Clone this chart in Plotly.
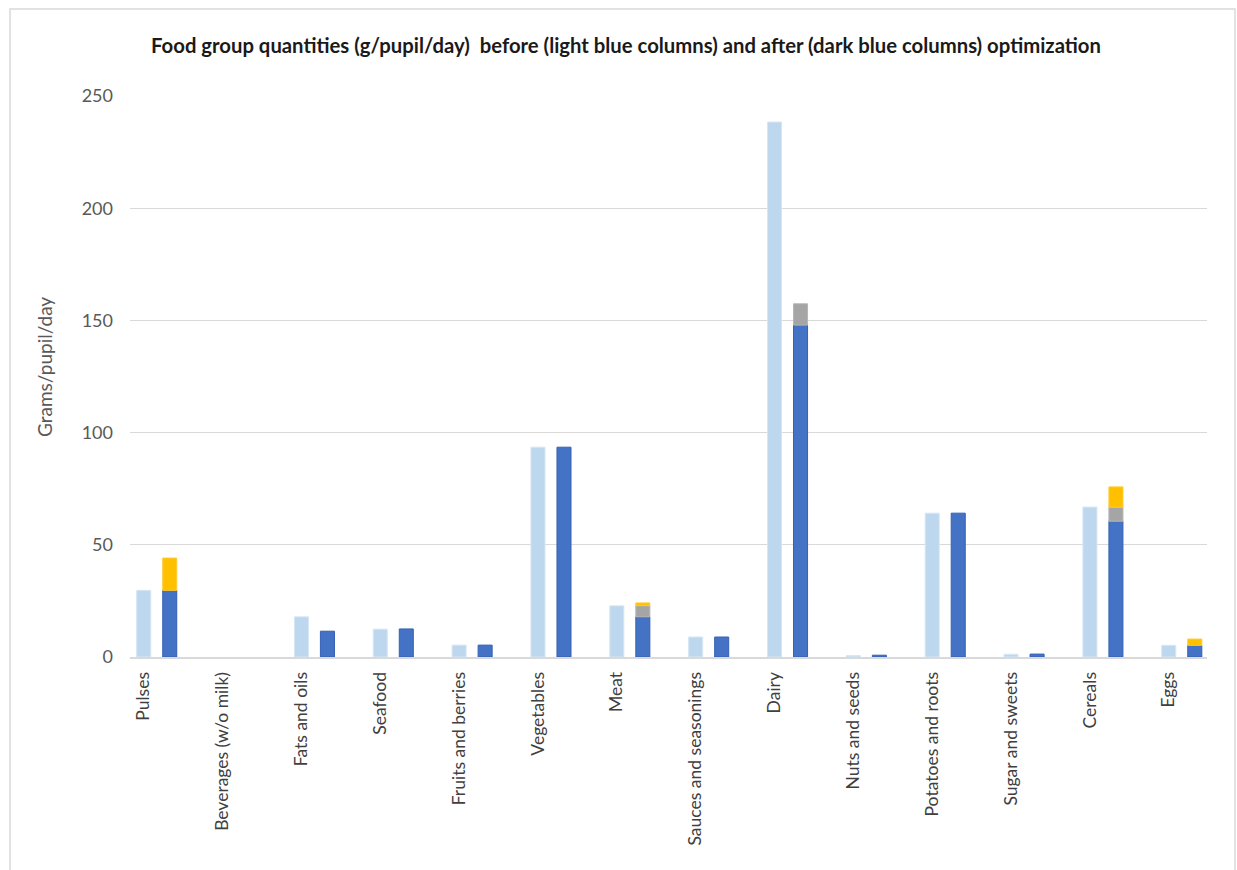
import numpy as np
import plotly.graph_objects as go

categories = ["Pulses", "Beverages (w/o milk)", "Fats and oils", "Seafood",
              "Fruits and berries", "Vegetables", "Meat", "Sauces and seasonings",
              "Dairy", "Nuts and seeds", "Potatoes and roots", "Sugar and sweets",
              "Cereals", "Eggs"]
before = [29.7, 0, 17.9, 12.4, 5.3, 93.5, 22.8, 8.9, 238.4, 0.6, 64.1, 1.2, 66.8, 5.2]
after_main = [29.7, 0, 11.5, 12.5, 5.3, 93.5, 17.9, 8.9, 147.9, 0.8, 64.1, 1.3, 60.5, 5.2]
after_gray = [0, 0, 0, 0, 0, 0, 5.0, 0, 9.5, 0, 0, 0, 6.3, 0]
after_yellow = [14.4, 0, 0, 0, 0, 0, 1.2, 0, 0, 0, 0, 0, 9.0, 2.8]
y_ticks = [0, 50, 100, 150, 200, 250]

W = 0.178      # bar width in category units
SHIFT = 0.33   # offset of the "after" column

base_gray = np.array(after_main)
base_yellow = base_gray + np.array(after_gray)


def nz(vals):
    # hide zero-height segments so no outline sliver is drawn
    return [v if v else None for v in vals]


FONT = "Lato"
fig = go.Figure()
fig.add_trace(go.Bar(x=categories, y=nz(before), width=W, offset=-W / 2,
                     marker=dict(color="#BDD7EE", line=dict(color="#D6E6F5", width=1)),
                     name="Before"))
fig.add_trace(go.Bar(x=categories, y=nz(after_main), width=W, offset=SHIFT - W / 2,
                     marker=dict(color="#4472C4", line=dict(color="#3560B5", width=1)),
                     name="After"))
fig.add_trace(go.Bar(x=categories, y=nz(after_gray), base=base_gray, width=W, offset=SHIFT - W / 2,
                     marker=dict(color="#A5A5A5", line=dict(color="#B5B5B5", width=1)),
                     name="After (gray)"))
fig.add_trace(go.Bar(x=categories, y=nz(after_yellow), base=base_yellow, width=W, offset=SHIFT - W / 2,
                     marker=dict(color="#FFC000", line=dict(color="#FFCB33", width=1)),
                     name="After (yellow)"))

L, R, T, B = 130, 30, 96, 213
PW = 1237 - L - R
PH = 870 - T - B

fig.update_layout(
    width=1237, height=870,
    margin=dict(l=L, r=R, t=T, b=B, pad=0),
    barmode="overlay",
    showlegend=False,
    plot_bgcolor="white", paper_bgcolor="white",
    font=dict(family=FONT, size=17, color="#595959"),
    title=dict(text="<b>Food group quantities (g/pupil/day)  before (light blue columns) and after (dark blue columns) optimization</b>",
               x=626 / 1237, xref="container", xanchor="center",
               y=1 - 46 / 870, yref="container", yanchor="middle",
               font=dict(family=FONT, size=20.3, color="#1a1a1a")),
    xaxis=dict(type="category", range=[-0.174, 13.485], tickangle=-90,
               showgrid=False, showline=True, linecolor="#d9d9d9", linewidth=2,
               ticks="", ticklabelstandoff=6, tickfont=dict(size=17.5, color="#404040")),
    yaxis=dict(range=[0, 250], tickvals=y_ticks, showgrid=True, gridcolor="#d9d9d9",
               gridwidth=1, zeroline=False, showline=False, ticks="",
               ticklabelstandoff=16, tickfont=dict(size=18, color="#595959")),
    annotations=[dict(text="Grams/pupil/day", textangle=-90, xref="paper", yref="paper",
                      x=(44 - L) / PW, y=(657 - 367) / PH, xanchor="center", yanchor="middle",
                      showarrow=False, font=dict(family=FONT, size=19, color="#595959"))],
    shapes=[dict(type="rect", xref="paper", yref="paper",
                 x0=(10 - L) / PW, x1=(1235 - L) / PW,
                 y0=(657 - 880) / PH, y1=(657 - 9) / PH,
                 line=dict(color="#d9d9d9", width=1.5), fillcolor="rgba(0,0,0,0)", layer="below")],
)

fig.write_html("out.html")
